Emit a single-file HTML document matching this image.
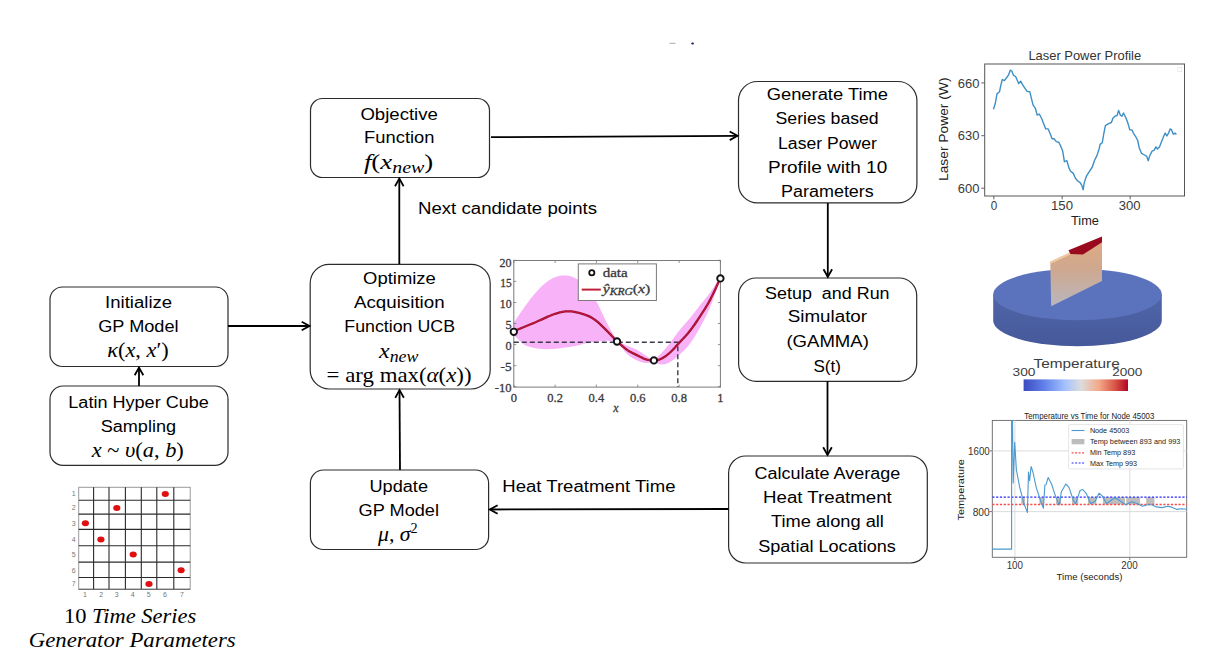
<!DOCTYPE html>
<html><head><meta charset="utf-8"><style>
html,body{margin:0;padding:0;background:#fff;}
body{width:1219px;height:661px;overflow:hidden;position:relative;}
svg{position:absolute;left:0;top:0;}
</style></head><body>
<svg width="1219" height="661" viewBox="0 0 1219 661">
<rect width="1219" height="661" fill="#fff"/>

<rect x="50" y="287" width="178.00" height="79.50" rx="12.5" ry="12.5" fill="none" stroke="#2c2c2c" stroke-width="1.2"/>
<rect x="50" y="386" width="178.00" height="79.30" rx="13" ry="13" fill="none" stroke="#2c2c2c" stroke-width="1.2"/>
<rect x="310.5" y="98.5" width="179.00" height="79.00" rx="12" ry="12" fill="none" stroke="#2c2c2c" stroke-width="1.2"/>
<rect x="310.2" y="264.3" width="180.00" height="124.70" rx="19" ry="19" fill="none" stroke="#2c2c2c" stroke-width="1.2"/>
<rect x="310.4" y="470" width="178.20" height="79.50" rx="13" ry="13" fill="none" stroke="#2c2c2c" stroke-width="1.2"/>
<rect x="738.5" y="81.5" width="178.40" height="121.40" rx="19" ry="19" fill="none" stroke="#2c2c2c" stroke-width="1.2"/>
<rect x="738.6" y="278" width="178.10" height="103.30" rx="17.5" ry="17.5" fill="none" stroke="#2c2c2c" stroke-width="1.2"/>
<rect x="728.6" y="456" width="198.70" height="107.00" rx="17" ry="17" fill="none" stroke="#2c2c2c" stroke-width="1.2"/>
<line x1="228" y1="326" x2="309.5" y2="326" stroke="#000" stroke-width="1.8"/>
<polyline points="301.70,330.30 309.50,326.00 301.70,321.70" fill="none" stroke="#000" stroke-width="1.8" stroke-linejoin="miter"/>
<line x1="139" y1="386" x2="139" y2="367.5" stroke="#000" stroke-width="1.8"/>
<polyline points="143.30,375.30 139.00,367.50 134.70,375.30" fill="none" stroke="#000" stroke-width="1.8" stroke-linejoin="miter"/>
<line x1="399.3" y1="264" x2="399.3" y2="178.5" stroke="#000" stroke-width="1.8"/>
<polyline points="403.60,186.30 399.30,178.50 395.00,186.30" fill="none" stroke="#000" stroke-width="1.8" stroke-linejoin="miter"/>
<line x1="400" y1="470" x2="399.5" y2="390" stroke="#000" stroke-width="1.8"/>
<polyline points="403.85,397.77 399.50,390.00 395.25,397.83" fill="none" stroke="#000" stroke-width="1.8" stroke-linejoin="miter"/>
<line x1="491" y1="137.2" x2="737.5" y2="135.8" stroke="#000" stroke-width="1.8"/>
<polyline points="729.72,140.14 737.50,135.80 729.68,131.54" fill="none" stroke="#000" stroke-width="1.8" stroke-linejoin="miter"/>
<line x1="827.8" y1="203" x2="827.8" y2="277" stroke="#000" stroke-width="1.8"/>
<polyline points="823.50,269.20 827.80,277.00 832.10,269.20" fill="none" stroke="#000" stroke-width="1.8" stroke-linejoin="miter"/>
<line x1="827.5" y1="381.3" x2="827.5" y2="455" stroke="#000" stroke-width="1.8"/>
<polyline points="823.20,447.20 827.50,455.00 831.80,447.20" fill="none" stroke="#000" stroke-width="1.8" stroke-linejoin="miter"/>
<line x1="728.6" y1="509" x2="489.8" y2="509.5" stroke="#000" stroke-width="1.8"/>
<polyline points="497.59,505.18 489.80,509.50 497.61,513.78" fill="none" stroke="#000" stroke-width="1.8" stroke-linejoin="miter"/>
<text x="105.1" y="308.2" font-family='"Liberation Sans", sans-serif' font-size="17.3"  fill="#000" textLength="67.00" lengthAdjust="spacingAndGlyphs" >Initialize</text>
<text x="98.2" y="331.7" font-family='"Liberation Sans", sans-serif' font-size="17.3"  fill="#000" textLength="80.40" lengthAdjust="spacingAndGlyphs" >GP Model</text>
<text x="107.2" y="356.7" font-family='"Liberation Serif", serif' font-size="21.5" fill="#000" textLength="61.60" lengthAdjust="spacingAndGlyphs" ><tspan font-style="italic">κ</tspan>(<tspan font-style="italic">x</tspan>, <tspan font-style="italic">x</tspan>′)</text>
<text x="68.3" y="407.9" font-family='"Liberation Sans", sans-serif' font-size="17.3"  fill="#000" textLength="140.60" lengthAdjust="spacingAndGlyphs" >Latin Hyper Cube</text>
<text x="100.7" y="431.5" font-family='"Liberation Sans", sans-serif' font-size="17.3"  fill="#000" textLength="75.40" lengthAdjust="spacingAndGlyphs" >Sampling</text>
<text x="91.8" y="456.7" font-family='"Liberation Serif", serif' font-size="21.5" fill="#000" textLength="92.00" lengthAdjust="spacingAndGlyphs" ><tspan font-style="italic">x</tspan> ~ <tspan font-style="italic">υ</tspan>(<tspan font-style="italic">a</tspan>, <tspan font-style="italic">b</tspan>)</text>
<text x="360.4" y="119.6" font-family='"Liberation Sans", sans-serif' font-size="17.3"  fill="#000" textLength="77.50" lengthAdjust="spacingAndGlyphs" >Objective</text>
<text x="364.1" y="143.2" font-family='"Liberation Sans", sans-serif' font-size="17.3"  fill="#000" textLength="70.40" lengthAdjust="spacingAndGlyphs" >Function</text>
<text x="363.9" y="168.8" font-family='"Liberation Serif", serif' font-size="21.5" fill="#000" textLength="69.40" lengthAdjust="spacingAndGlyphs" ><tspan font-style="italic">f</tspan>(<tspan font-style="italic">x</tspan><tspan font-style="italic" font-size="16" dy="4.3">new</tspan><tspan dy="-4.3">)</tspan></text>
<text x="363.1" y="284" font-family='"Liberation Sans", sans-serif' font-size="17.3"  fill="#000" textLength="72.70" lengthAdjust="spacingAndGlyphs" >Optimize</text>
<text x="354" y="307.9" font-family='"Liberation Sans", sans-serif' font-size="17.3"  fill="#000" textLength="90.60" lengthAdjust="spacingAndGlyphs" >Acquisition</text>
<text x="344.3" y="332.2" font-family='"Liberation Sans", sans-serif' font-size="17.3"  fill="#000" textLength="110.70" lengthAdjust="spacingAndGlyphs" >Function UCB</text>
<text x="379.1" y="358" font-family='"Liberation Serif", serif' font-size="21.5" fill="#000" textLength="39.30" lengthAdjust="spacingAndGlyphs" ><tspan font-style="italic">x</tspan><tspan font-style="italic" font-size="16" dy="4.3">new</tspan></text>
<text x="326.6" y="381.6" font-family='"Liberation Serif", serif' font-size="21.5" fill="#000" textLength="145.00" lengthAdjust="spacingAndGlyphs" >=  arg max(<tspan font-style="italic">α</tspan>(<tspan font-style="italic">x</tspan>))</text>
<text x="369.5" y="492.3" font-family='"Liberation Sans", sans-serif' font-size="17.3"  fill="#000" textLength="58.50" lengthAdjust="spacingAndGlyphs" >Update</text>
<text x="358.6" y="515.7" font-family='"Liberation Sans", sans-serif' font-size="17.3"  fill="#000" textLength="80.40" lengthAdjust="spacingAndGlyphs" >GP Model</text>
<text x="378" y="540.6" font-family='"Liberation Serif", serif' font-size="21.5" fill="#000" textLength="39.70" lengthAdjust="spacingAndGlyphs" ><tspan font-style="italic">μ, σ</tspan><tspan font-size="14" dy="-8">2</tspan></text>
<text x="766.7" y="100" font-family='"Liberation Sans", sans-serif' font-size="17.3"  fill="#000" textLength="121.30" lengthAdjust="spacingAndGlyphs" >Generate Time</text>
<text x="775.6" y="123.6" font-family='"Liberation Sans", sans-serif' font-size="17.3"  fill="#000" textLength="103.10" lengthAdjust="spacingAndGlyphs" >Series based</text>
<text x="778.1" y="148.8" font-family='"Liberation Sans", sans-serif' font-size="17.3"  fill="#000" textLength="98.70" lengthAdjust="spacingAndGlyphs" >Laser Power</text>
<text x="768.1" y="173.4" font-family='"Liberation Sans", sans-serif' font-size="17.3"  fill="#000" textLength="119.10" lengthAdjust="spacingAndGlyphs" >Profile with 10</text>
<text x="781.1" y="197" font-family='"Liberation Sans", sans-serif' font-size="17.3"  fill="#000" textLength="92.70" lengthAdjust="spacingAndGlyphs" >Parameters</text>
<text x="765.1" y="298.9" font-family='"Liberation Sans", sans-serif' font-size="17.3"  fill="#000" textLength="124.50" lengthAdjust="spacingAndGlyphs" >Setup &#160;and Run</text>
<text x="787.7" y="322.3" font-family='"Liberation Sans", sans-serif' font-size="17.3"  fill="#000" textLength="79.40" lengthAdjust="spacingAndGlyphs" >Simulator</text>
<text x="786.4" y="347.2" font-family='"Liberation Sans", sans-serif' font-size="17.3"  fill="#000" textLength="82.50" lengthAdjust="spacingAndGlyphs" >(GAMMA)</text>
<text x="813.4" y="372.4" font-family='"Liberation Sans", sans-serif' font-size="17.3"  fill="#000" textLength="27.50" lengthAdjust="spacingAndGlyphs" >S(t)</text>
<text x="754.6" y="478.8" font-family='"Liberation Sans", sans-serif' font-size="17.3"  fill="#000" textLength="145.60" lengthAdjust="spacingAndGlyphs" >Calculate Average</text>
<text x="763.1" y="502.5" font-family='"Liberation Sans", sans-serif' font-size="17.3"  fill="#000" textLength="128.60" lengthAdjust="spacingAndGlyphs" >Heat Treatment</text>
<text x="771" y="526.8" font-family='"Liberation Sans", sans-serif' font-size="17.3"  fill="#000" textLength="112.90" lengthAdjust="spacingAndGlyphs" >Time along all</text>
<text x="758.2" y="551.6" font-family='"Liberation Sans", sans-serif' font-size="17.3"  fill="#000" textLength="137.70" lengthAdjust="spacingAndGlyphs" >Spatial Locations</text>
<text x="418" y="213.8" font-family='"Liberation Sans", sans-serif' font-size="17.3"  fill="#000" textLength="179.10" lengthAdjust="spacingAndGlyphs" >Next candidate points</text>
<text x="502.3" y="492" font-family='"Liberation Sans", sans-serif' font-size="17.3"  fill="#000" textLength="173.20" lengthAdjust="spacingAndGlyphs" >Heat Treatment Time</text>
<text x="64" y="622.9" font-family='"Liberation Serif", serif' font-size="20.5" fill="#000" textLength="132.20" lengthAdjust="spacingAndGlyphs" >10 <tspan font-style="italic">Time Series</tspan></text>
<text x="28.8" y="647.4" font-family='"Liberation Serif", serif' font-size="20.5" fill="#000" textLength="206.90" lengthAdjust="spacingAndGlyphs" ><tspan font-style="italic">Generator Parameters</tspan></text>
<rect x="505" y="250" width="222" height="170" fill="#fff"/>
<polygon points="513.8,322.7 514.8,321.2 515.9,319.6 516.9,318.1 517.9,316.5 519.0,315.0 520.0,313.5 521.0,311.9 522.1,310.4 523.1,309.0 524.1,307.5 525.2,306.1 526.2,304.7 527.2,303.3 528.3,301.9 529.3,300.5 530.3,299.1 531.4,297.8 532.4,296.5 533.4,295.3 534.5,294.0 535.5,292.8 536.5,291.7 537.6,290.5 538.6,289.4 539.6,288.3 540.7,287.3 541.7,286.3 542.7,285.3 543.8,284.4 544.8,283.5 545.8,282.7 546.9,281.9 547.9,281.1 548.9,280.4 550.0,279.8 551.0,279.2 552.0,278.6 553.1,278.1 554.1,277.6 555.1,277.2 556.2,276.8 557.2,276.5 558.2,276.2 559.3,275.9 560.3,275.8 561.3,275.6 562.4,275.5 563.4,275.5 564.4,275.5 565.4,275.5 566.5,275.6 567.5,275.7 568.5,275.8 569.6,276.1 570.6,276.3 571.6,276.6 572.7,277.0 573.7,277.4 574.7,277.9 575.8,278.4 576.8,279.1 577.8,279.7 578.9,280.5 579.9,281.3 580.9,282.2 582.0,283.1 583.0,284.0 584.0,285.1 585.1,286.2 586.1,287.3 587.1,288.5 588.2,289.7 589.2,291.0 590.2,292.3 591.3,293.7 592.3,295.1 593.3,296.7 594.4,298.2 595.4,299.9 596.4,301.6 597.5,303.5 598.5,305.4 599.5,307.5 600.6,309.7 601.6,311.9 602.6,314.1 603.7,316.4 604.7,318.6 605.7,320.7 606.8,322.7 607.8,324.6 608.8,326.5 609.9,328.3 610.9,330.1 611.9,331.9 613.0,333.7 614.0,335.5 615.0,337.3 616.1,339.0 617.1,340.8 618.1,341.2 619.2,341.7 620.2,342.3 621.2,342.8 622.3,343.4 623.3,343.9 624.3,344.4 625.4,344.9 626.4,345.4 627.4,345.9 628.5,346.3 629.5,346.7 630.5,347.2 631.6,347.6 632.6,348.0 633.6,348.4 634.7,348.8 635.7,349.3 636.7,349.8 637.8,350.4 638.8,351.0 639.8,351.6 640.9,352.3 641.9,353.0 642.9,353.7 644.0,354.4 645.0,355.1 646.0,355.7 647.1,356.4 648.1,357.0 649.1,357.6 650.2,358.2 651.2,358.7 652.2,359.2 653.3,359.6 654.3,360.0 655.3,358.8 656.4,357.8 657.4,356.8 658.4,355.9 659.5,354.9 660.5,353.9 661.5,352.9 662.6,351.8 663.6,350.7 664.6,349.5 665.7,348.3 666.7,347.1 667.7,345.8 668.8,344.5 669.8,343.2 670.8,341.9 671.8,340.5 672.9,339.2 673.9,337.8 674.9,336.3 676.0,334.9 677.0,333.5 678.0,332.1 679.1,330.8 680.1,329.5 681.1,328.3 682.2,327.1 683.2,325.9 684.2,324.7 685.3,323.5 686.3,322.4 687.3,321.2 688.4,320.0 689.4,318.7 690.4,317.5 691.5,316.2 692.5,314.9 693.5,313.6 694.6,312.2 695.6,310.9 696.6,309.6 697.7,308.2 698.7,306.9 699.7,305.6 700.8,304.3 701.8,303.1 702.8,301.8 703.9,300.5 704.9,299.3 705.9,298.0 707.0,296.7 708.0,295.4 709.0,294.0 710.1,292.6 711.1,291.1 712.1,289.6 713.2,288.0 714.2,286.4 715.2,284.7 716.3,283.1 717.3,281.5 718.3,280.0 719.4,278.5 720.4,277.4 720.4,278.7 719.4,282.0 718.3,285.1 717.3,288.1 716.3,291.0 715.2,293.9 714.2,296.7 713.2,299.5 712.1,302.2 711.1,304.8 710.1,307.3 709.0,309.6 708.0,311.9 707.0,314.1 705.9,316.3 704.9,318.3 703.9,320.3 702.8,322.3 701.8,324.2 700.8,326.1 699.7,328.0 698.7,329.8 697.7,331.6 696.6,333.4 695.6,335.1 694.6,336.8 693.5,338.4 692.5,340.0 691.5,341.5 690.4,343.0 689.4,344.3 688.4,345.7 687.3,346.9 686.3,348.0 685.3,349.1 684.2,350.2 683.2,351.2 682.2,352.2 681.1,353.1 680.1,354.1 679.1,355.0 678.0,356.0 677.0,356.9 676.0,357.8 674.9,358.7 673.9,359.5 672.9,360.3 671.8,361.0 670.8,361.7 669.8,362.2 668.8,362.7 667.7,363.2 666.7,363.6 665.7,363.9 664.6,364.2 663.6,364.3 662.6,364.4 661.5,364.4 660.5,364.2 659.5,364.0 658.4,363.8 657.4,363.4 656.4,362.9 655.3,362.2 654.3,361.2 653.3,361.7 652.2,362.1 651.2,362.4 650.2,362.6 649.1,362.8 648.1,362.9 647.1,362.9 646.0,363.0 645.0,362.9 644.0,362.8 642.9,362.6 641.9,362.3 640.9,362.0 639.8,361.6 638.8,361.2 637.8,360.8 636.7,360.3 635.7,359.8 634.7,359.3 633.6,358.8 632.6,358.2 631.6,357.5 630.5,356.8 629.5,356.0 628.5,355.2 627.4,354.3 626.4,353.2 625.4,352.2 624.3,351.0 623.3,349.8 622.3,348.6 621.2,347.3 620.2,345.9 619.2,344.6 618.1,343.2 617.1,341.7 616.1,341.5 615.0,341.4 614.0,341.3 613.0,341.2 611.9,341.1 610.9,341.0 609.9,340.9 608.8,340.9 607.8,340.8 606.8,340.8 605.7,340.8 604.7,340.9 603.7,340.9 602.6,341.0 601.6,341.1 600.6,341.2 599.5,341.3 598.5,341.4 597.5,341.5 596.4,341.7 595.4,341.8 594.4,341.9 593.3,342.1 592.3,342.2 591.3,342.4 590.2,342.6 589.2,342.7 588.2,342.9 587.1,343.1 586.1,343.3 585.1,343.6 584.0,343.8 583.0,344.1 582.0,344.3 580.9,344.6 579.9,344.9 578.9,345.1 577.8,345.4 576.8,345.6 575.8,345.9 574.7,346.1 573.7,346.3 572.7,346.4 571.6,346.6 570.6,346.8 569.6,346.9 568.5,347.1 567.5,347.3 566.5,347.4 565.4,347.5 564.4,347.7 563.4,347.8 562.4,348.0 561.3,348.1 560.3,348.3 559.3,348.4 558.2,348.5 557.2,348.6 556.2,348.7 555.1,348.8 554.1,348.9 553.1,349.0 552.0,349.1 551.0,349.1 550.0,349.2 548.9,349.2 547.9,349.3 546.9,349.3 545.8,349.3 544.8,349.2 543.8,349.2 542.7,349.1 541.7,349.0 540.7,349.0 539.6,348.8 538.6,348.7 537.6,348.6 536.5,348.4 535.5,348.2 534.5,348.0 533.4,347.7 532.4,347.5 531.4,347.3 530.3,347.1 529.3,346.8 528.3,346.5 527.2,346.1 526.2,345.7 525.2,345.2 524.1,344.6 523.1,343.9 522.1,343.0 521.0,342.1 520.0,341.2 519.0,340.2 517.9,339.1 516.9,338.1 515.9,337.0 514.8,335.9 513.8,334.9" fill="#f8b2f8"/>
<rect x="513.8" y="260.5" width="206.6" height="126.6" fill="none" stroke="#7a7a7a" stroke-width="1"/>
<line x1="513.8" y1="387.1" x2="513.8" y2="384.6" stroke="#777" stroke-width="0.8"/>
<line x1="513.8" y1="260.5" x2="513.8" y2="263" stroke="#777" stroke-width="0.8"/>
<line x1="555.1" y1="387.1" x2="555.1" y2="384.6" stroke="#777" stroke-width="0.8"/>
<line x1="555.1" y1="260.5" x2="555.1" y2="263" stroke="#777" stroke-width="0.8"/>
<line x1="596.4" y1="387.1" x2="596.4" y2="384.6" stroke="#777" stroke-width="0.8"/>
<line x1="596.4" y1="260.5" x2="596.4" y2="263" stroke="#777" stroke-width="0.8"/>
<line x1="637.8" y1="387.1" x2="637.8" y2="384.6" stroke="#777" stroke-width="0.8"/>
<line x1="637.8" y1="260.5" x2="637.8" y2="263" stroke="#777" stroke-width="0.8"/>
<line x1="679.1" y1="387.1" x2="679.1" y2="384.6" stroke="#777" stroke-width="0.8"/>
<line x1="679.1" y1="260.5" x2="679.1" y2="263" stroke="#777" stroke-width="0.8"/>
<line x1="720.4" y1="387.1" x2="720.4" y2="384.6" stroke="#777" stroke-width="0.8"/>
<line x1="720.4" y1="260.5" x2="720.4" y2="263" stroke="#777" stroke-width="0.8"/>
<line x1="513.8" y1="260.3" x2="516.3" y2="260.3" stroke="#777" stroke-width="0.8"/>
<line x1="717.9" y1="260.3" x2="720.4" y2="260.3" stroke="#777" stroke-width="0.8"/>
<line x1="513.8" y1="281.4" x2="516.3" y2="281.4" stroke="#777" stroke-width="0.8"/>
<line x1="717.9" y1="281.4" x2="720.4" y2="281.4" stroke="#777" stroke-width="0.8"/>
<line x1="513.8" y1="302.5" x2="516.3" y2="302.5" stroke="#777" stroke-width="0.8"/>
<line x1="717.9" y1="302.5" x2="720.4" y2="302.5" stroke="#777" stroke-width="0.8"/>
<line x1="513.8" y1="323.5" x2="516.3" y2="323.5" stroke="#777" stroke-width="0.8"/>
<line x1="717.9" y1="323.5" x2="720.4" y2="323.5" stroke="#777" stroke-width="0.8"/>
<line x1="513.8" y1="344.6" x2="516.3" y2="344.6" stroke="#777" stroke-width="0.8"/>
<line x1="717.9" y1="344.6" x2="720.4" y2="344.6" stroke="#777" stroke-width="0.8"/>
<line x1="513.8" y1="365.7" x2="516.3" y2="365.7" stroke="#777" stroke-width="0.8"/>
<line x1="717.9" y1="365.7" x2="720.4" y2="365.7" stroke="#777" stroke-width="0.8"/>
<line x1="513.8" y1="386.7" x2="516.3" y2="386.7" stroke="#777" stroke-width="0.8"/>
<line x1="717.9" y1="386.7" x2="720.4" y2="386.7" stroke="#777" stroke-width="0.8"/>
<polyline points="513.8,342.3 677.8,342.3 677.8,387" fill="none" stroke="#3a3a4a" stroke-width="1.4" stroke-dasharray="5,3"/>
<polyline points="513.8,331.1 515.0,330.6 516.6,330.0 518.5,329.2 520.6,328.4 522.8,327.5 525.2,326.5 527.6,325.5 530.0,324.5 532.3,323.6 534.5,322.7 536.6,321.8 538.7,320.8 540.9,319.9 543.0,318.9 545.2,317.9 547.3,316.9 549.4,316.0 551.4,315.2 553.3,314.5 555.1,313.8 556.8,313.3 558.4,312.8 559.8,312.4 561.3,312.1 562.6,311.8 563.9,311.6 565.3,311.4 566.7,311.3 568.1,311.3 569.6,311.3 571.2,311.4 572.9,311.6 574.6,311.9 576.3,312.3 578.1,312.7 579.8,313.1 581.5,313.6 583.2,314.1 584.7,314.6 586.1,315.1 587.4,315.6 588.6,316.1 589.7,316.6 590.7,317.1 591.7,317.7 592.6,318.3 593.5,318.9 594.5,319.5 595.4,320.2 596.4,321.0 597.5,321.8 598.5,322.7 599.5,323.6 600.6,324.6 601.6,325.6 602.6,326.6 603.7,327.6 604.7,328.6 605.7,329.7 606.8,330.7 607.8,331.7 608.8,332.8 609.9,333.8 610.9,334.9 611.9,336.0 613.0,337.1 614.0,338.2 615.0,339.2 616.1,340.2 617.1,341.2 618.1,342.2 619.2,343.2 620.2,344.1 621.2,345.1 622.3,346.0 623.3,346.9 624.3,347.7 625.4,348.6 626.4,349.3 627.4,350.1 628.5,350.8 629.5,351.4 630.6,352.0 631.7,352.6 632.7,353.1 633.8,353.6 634.8,354.1 635.8,354.6 636.8,355.1 637.8,355.6 638.7,356.0 639.5,356.5 640.4,356.9 641.2,357.3 642.0,357.7 642.8,358.1 643.6,358.5 644.4,358.8 645.2,359.1 646.0,359.3 646.9,359.6 647.7,359.8 648.5,360.0 649.3,360.2 650.2,360.4 651.0,360.5 651.8,360.6 652.6,360.6 653.5,360.7 654.3,360.6 655.1,360.5 655.9,360.4 656.8,360.3 657.6,360.1 658.4,359.8 659.2,359.6 660.1,359.2 660.9,358.9 661.7,358.5 662.6,358.1 663.4,357.6 664.2,357.1 665.0,356.5 665.9,356.0 666.7,355.3 667.5,354.7 668.3,354.0 669.2,353.3 670.0,352.5 670.8,351.8 671.6,351.0 672.4,350.2 673.2,349.4 674.0,348.5 674.8,347.7 675.6,346.8 676.4,345.8 677.3,344.9 678.2,343.9 679.1,342.9 680.0,341.9 681.0,340.9 682.0,339.8 683.1,338.7 684.1,337.6 685.2,336.5 686.2,335.3 687.3,334.1 688.4,332.8 689.4,331.5 690.4,330.2 691.5,328.8 692.5,327.4 693.5,326.0 694.6,324.5 695.6,323.0 696.6,321.5 697.7,319.9 698.7,318.4 699.7,316.8 700.8,315.2 701.8,313.6 702.8,312.0 703.9,310.4 704.9,308.8 705.9,307.1 707.0,305.4 708.0,303.7 709.0,301.8 710.1,299.9 711.1,297.8 712.3,295.5 713.5,293.0 714.7,290.5 715.9,287.9 717.0,285.4 718.1,283.1 719.0,281.1 719.8,279.3 720.4,278.0" fill="none" stroke="#9a1030" stroke-width="2.3" stroke-linejoin="round"/>
<polyline points="513.8,331.1 515.0,330.6 516.6,330.0 518.5,329.2 520.6,328.4 522.8,327.5 525.2,326.5 527.6,325.5 530.0,324.5 532.3,323.6 534.5,322.7 536.6,321.8 538.7,320.8 540.9,319.9 543.0,318.9 545.2,317.9 547.3,316.9 549.4,316.0 551.4,315.2 553.3,314.5 555.1,313.8 556.8,313.3 558.4,312.8 559.8,312.4 561.3,312.1 562.6,311.8 563.9,311.6 565.3,311.4 566.7,311.3 568.1,311.3 569.6,311.3 571.2,311.4 572.9,311.6 574.6,311.9 576.3,312.3 578.1,312.7 579.8,313.1 581.5,313.6 583.2,314.1 584.7,314.6 586.1,315.1 587.4,315.6 588.6,316.1 589.7,316.6 590.7,317.1 591.7,317.7 592.6,318.3 593.5,318.9 594.5,319.5 595.4,320.2 596.4,321.0 597.5,321.8 598.5,322.7 599.5,323.6 600.6,324.6 601.6,325.6 602.6,326.6 603.7,327.6 604.7,328.6 605.7,329.7 606.8,330.7 607.8,331.7 608.8,332.8 609.9,333.8 610.9,334.9 611.9,336.0 613.0,337.1 614.0,338.2 615.0,339.2 616.1,340.2 617.1,341.2 618.1,342.2 619.2,343.2 620.2,344.1 621.2,345.1 622.3,346.0 623.3,346.9 624.3,347.7 625.4,348.6 626.4,349.3 627.4,350.1 628.5,350.8 629.5,351.4 630.6,352.0 631.7,352.6 632.7,353.1 633.8,353.6 634.8,354.1 635.8,354.6 636.8,355.1 637.8,355.6 638.7,356.0 639.5,356.5 640.4,356.9 641.2,357.3 642.0,357.7 642.8,358.1 643.6,358.5 644.4,358.8 645.2,359.1 646.0,359.3 646.9,359.6 647.7,359.8 648.5,360.0 649.3,360.2 650.2,360.4 651.0,360.5 651.8,360.6 652.6,360.6 653.5,360.7 654.3,360.6 655.1,360.5 655.9,360.4 656.8,360.3 657.6,360.1 658.4,359.8 659.2,359.6 660.1,359.2 660.9,358.9 661.7,358.5 662.6,358.1 663.4,357.6 664.2,357.1 665.0,356.5 665.9,356.0 666.7,355.3 667.5,354.7 668.3,354.0 669.2,353.3 670.0,352.5 670.8,351.8 671.6,351.0 672.4,350.2 673.2,349.4 674.0,348.5 674.8,347.7 675.6,346.8 676.4,345.8 677.3,344.9 678.2,343.9 679.1,342.9 680.0,341.9 681.0,340.9 682.0,339.8 683.1,338.7 684.1,337.6 685.2,336.5 686.2,335.3 687.3,334.1 688.4,332.8 689.4,331.5 690.4,330.2 691.5,328.8 692.5,327.4 693.5,326.0 694.6,324.5 695.6,323.0 696.6,321.5 697.7,319.9 698.7,318.4 699.7,316.8 700.8,315.2 701.8,313.6 702.8,312.0 703.9,310.4 704.9,308.8 705.9,307.1 707.0,305.4 708.0,303.7 709.0,301.8 710.1,299.9 711.1,297.8 712.3,295.5 713.5,293.0 714.7,290.5 715.9,287.9 717.0,285.4 718.1,283.1 719.0,281.1 719.8,279.3 720.4,278.0" fill="none" stroke="#cc1a3e" stroke-width="0.9" stroke-linejoin="round"/>
<circle cx="513.8" cy="331.8" r="3.2" fill="#fff" stroke="#111" stroke-width="1.9"/>
<circle cx="617" cy="341.5" r="3.2" fill="#fff" stroke="#111" stroke-width="1.9"/>
<circle cx="653.9" cy="360.4" r="3.2" fill="#fff" stroke="#111" stroke-width="1.9"/>
<circle cx="720.4" cy="278.4" r="3.2" fill="#fff" stroke="#111" stroke-width="1.9"/>
<text x="499.6" y="266.8" font-family='"Liberation Serif", serif' fill="#3a3a3a" stroke="#3a3a3a" stroke-width="0.3" font-size="12.5" textLength="12.0" lengthAdjust="spacingAndGlyphs">20</text>
<text x="500.2" y="286.9" font-family='"Liberation Serif", serif' fill="#3a3a3a" stroke="#3a3a3a" stroke-width="0.3" font-size="12.5" textLength="11.4" lengthAdjust="spacingAndGlyphs">15</text>
<text x="499.8" y="308.0" font-family='"Liberation Serif", serif' fill="#3a3a3a" stroke="#3a3a3a" stroke-width="0.3" font-size="12.5" textLength="11.8" lengthAdjust="spacingAndGlyphs">10</text>
<text x="505.5" y="329.0" font-family='"Liberation Serif", serif' fill="#3a3a3a" stroke="#3a3a3a" stroke-width="0.3" font-size="12.5" textLength="6.1" lengthAdjust="spacingAndGlyphs">5</text>
<text x="505.5" y="350.1" font-family='"Liberation Serif", serif' fill="#3a3a3a" stroke="#3a3a3a" stroke-width="0.3" font-size="12.5" textLength="6.1" lengthAdjust="spacingAndGlyphs">0</text>
<text x="500.5" y="371.2" font-family='"Liberation Serif", serif' fill="#3a3a3a" stroke="#3a3a3a" stroke-width="0.3" font-size="12.5" textLength="11.1" lengthAdjust="spacingAndGlyphs">-5</text>
<text x="494.8" y="392.2" font-family='"Liberation Serif", serif' fill="#3a3a3a" stroke="#3a3a3a" stroke-width="0.3" font-size="12.5" textLength="16.8" lengthAdjust="spacingAndGlyphs">-10</text>
<text x="513.8" y="402.3" font-family='"Liberation Serif", serif' fill="#3a3a3a" stroke="#3a3a3a" stroke-width="0.3" font-size="12.5" text-anchor="middle">0</text>
<text x="555.1" y="402.3" font-family='"Liberation Serif", serif' fill="#3a3a3a" stroke="#3a3a3a" stroke-width="0.3" font-size="12.5" text-anchor="middle">0.2</text>
<text x="596.4" y="402.3" font-family='"Liberation Serif", serif' fill="#3a3a3a" stroke="#3a3a3a" stroke-width="0.3" font-size="12.5" text-anchor="middle">0.4</text>
<text x="637.8" y="402.3" font-family='"Liberation Serif", serif' fill="#3a3a3a" stroke="#3a3a3a" stroke-width="0.3" font-size="12.5" text-anchor="middle">0.6</text>
<text x="679.1" y="402.3" font-family='"Liberation Serif", serif' fill="#3a3a3a" stroke="#3a3a3a" stroke-width="0.3" font-size="12.5" text-anchor="middle">0.8</text>
<text x="720.4" y="402.3" font-family='"Liberation Serif", serif' fill="#3a3a3a" stroke="#3a3a3a" stroke-width="0.3" font-size="12.5" text-anchor="middle">1</text>
<text x="616" y="411.5" font-family='"Liberation Serif", serif' fill="#3a3a3a" stroke="#3a3a3a" stroke-width="0.3" font-size="12" font-style="italic" text-anchor="middle">x</text>
<rect x="578.3" y="263.9" width="78.1" height="36.6" fill="#fff" stroke="#7a7a7a" stroke-width="1"/>
<circle cx="591.8" cy="272.8" r="2.6" fill="#fff" stroke="#111" stroke-width="1.8"/>
<text x="602.7" y="277.1" font-family='"Liberation Serif", serif' fill="#3a3a3a" stroke="#3a3a3a" stroke-width="0.3" font-size="13" textLength="25" lengthAdjust="spacingAndGlyphs">data</text>
<line x1="581.7" y1="289.6" x2="600.8" y2="289.6" stroke="#c0203a" stroke-width="2"/>
<text x="602.7" y="293.2" font-family='"Liberation Serif", serif' fill="#3a3a3a" stroke="#3a3a3a" stroke-width="0.3" font-size="13" textLength="47.6" lengthAdjust="spacingAndGlyphs"><tspan font-style="italic">ŷ</tspan><tspan font-style="italic" font-size="9.5" dy="2">KRG</tspan><tspan dy="-2">(</tspan><tspan font-style="italic">x</tspan>)</text>
<text x="1084.8" y="60.2" font-family='"Liberation Sans", sans-serif' font-size="12.2" fill="#333" text-anchor="middle" textLength="112.8" lengthAdjust="spacingAndGlyphs">Laser Power Profile</text>
<rect x="984.7" y="64" width="199.8" height="132" fill="#fff" stroke="#555" stroke-width="1"/>
<rect x="1177.8" y="67.6" width="3.8" height="3.8" fill="none" stroke="#e6e6e6" stroke-width="0.8"/>
<line x1="981.3" y1="82.9" x2="984.7" y2="82.9" stroke="#555" stroke-width="0.9"/>
<line x1="981.3" y1="135.7" x2="984.7" y2="135.7" stroke="#555" stroke-width="0.9"/>
<line x1="981.3" y1="188.2" x2="984.7" y2="188.2" stroke="#555" stroke-width="0.9"/>
<line x1="993.8" y1="196" x2="993.8" y2="199.4" stroke="#555" stroke-width="0.9"/>
<line x1="1062.2" y1="196" x2="1062.2" y2="199.4" stroke="#555" stroke-width="0.9"/>
<line x1="1130.2" y1="196" x2="1130.2" y2="199.4" stroke="#555" stroke-width="0.9"/>
<text x="957.8" y="87.5" font-family='"Liberation Sans", sans-serif' font-size="13.4" fill="#3a3a3a" textLength="21.6" lengthAdjust="spacingAndGlyphs">660</text>
<text x="957.8" y="140.3" font-family='"Liberation Sans", sans-serif' font-size="13.4" fill="#3a3a3a" textLength="21.6" lengthAdjust="spacingAndGlyphs">630</text>
<text x="957.8" y="192.8" font-family='"Liberation Sans", sans-serif' font-size="13.4" fill="#3a3a3a" textLength="21.6" lengthAdjust="spacingAndGlyphs">600</text>
<text x="990.7" y="210.3" font-family='"Liberation Sans", sans-serif' font-size="13.4" fill="#3a3a3a" textLength="6.5" lengthAdjust="spacingAndGlyphs">0</text>
<text x="1051" y="210.3" font-family='"Liberation Sans", sans-serif' font-size="13.4" fill="#3a3a3a" textLength="22" lengthAdjust="spacingAndGlyphs">150</text>
<text x="1118.7" y="210.3" font-family='"Liberation Sans", sans-serif' font-size="13.4" fill="#3a3a3a" textLength="21.8" lengthAdjust="spacingAndGlyphs">300</text>
<text x="1071" y="224.5" font-family='"Liberation Sans", sans-serif' font-size="12" fill="#222" textLength="27.9" lengthAdjust="spacingAndGlyphs">Time</text>
<text transform="translate(947.6,181) rotate(-90)" x="0" y="0" font-family='"Liberation Sans", sans-serif' font-size="13.2" fill="#222" textLength="103.5" lengthAdjust="spacingAndGlyphs">Laser Power (W)</text>
<polyline points="993.4,109.2 995.3,103.5 997.0,93.9 999.5,91.8 1000.8,85.4 1002.3,79.5 1004.4,80.6 1007.1,77.0 1008.6,74.8 1010.3,70.2 1011.8,71.0 1013.5,75.3 1015.6,76.5 1017.7,81.2 1018.8,83.7 1020.7,81.2 1022.4,84.4 1024.5,87.6 1027.1,91.4 1029.8,91.8 1031.9,100.3 1033.0,104.9 1035.5,108.7 1037.2,115.1 1039.3,114.0 1041.5,118.3 1043.6,123.6 1045.7,128.9 1048.2,128.9 1050.4,134.2 1052.1,138.8 1054.2,138.8 1056.3,141.6 1058.8,142.2 1060.5,145.8 1062.7,151.1 1064.4,161.7 1066.9,160.7 1069.0,168.1 1070.7,171.3 1073.3,173.4 1075.4,178.3 1077.5,180.8 1080.0,182.5 1081.7,185.1 1083.2,189.7 1084.2,182.9 1086.4,176.2 1089.5,171.3 1092.3,167.0 1094.4,160.7 1097.0,155.4 1099.1,149.0 1100.1,144.4 1102.3,142.7 1103.7,134.2 1105.4,125.7 1108.6,123.6 1111.4,122.5 1112.9,118.3 1115.0,116.2 1117.1,115.5 1118.6,110.4 1120.3,115.1 1122.0,116.2 1123.5,113.0 1125.6,117.2 1127.7,122.5 1129.8,129.9 1131.9,129.9 1134.0,134.2 1135.5,136.3 1137.7,140.5 1139.3,148.0 1141.5,153.3 1144.6,155.0 1146.8,156.4 1148.2,160.7 1149.9,155.4 1152.1,151.1 1154.2,150.1 1155.9,146.9 1157.4,149.0 1159.5,146.9 1161.6,141.6 1163.7,136.3 1165.2,133.1 1166.9,135.9 1168.6,133.1 1170.1,128.9 1171.6,129.9 1173.3,134.2 1175.0,133.1 1176.4,134.6" fill="none" stroke="#3d8fc6" stroke-width="1.4" stroke-linejoin="round"/>
<defs><linearGradient id="cw" x1="0" x2="1" y1="0" y2="0"><stop offset="0" stop-color="#3b4cc0"/><stop offset="0.2" stop-color="#6282ea"/><stop offset="0.4" stop-color="#a5c2fe"/><stop offset="0.55" stop-color="#dcdcdc"/><stop offset="0.72" stop-color="#f4a98a"/><stop offset="0.88" stop-color="#d65244"/><stop offset="1" stop-color="#b40426"/></linearGradient><linearGradient id="plate" x1="0" x2="0" y1="0" y2="1"><stop offset="0" stop-color="#e2ab82"/><stop offset="0.45" stop-color="#cfa88e"/><stop offset="1" stop-color="#b9b6bd"/></linearGradient><linearGradient id="side" x1="0" x2="0" y1="0" y2="1"><stop offset="0" stop-color="#4f66a8"/><stop offset="1" stop-color="#46599a"/></linearGradient></defs>
<path d="M993.2,294.5 L993.2,320.5 A84.3,25.7 0 0 0 1161.8,320.5 L1161.8,294.5 Z" fill="url(#side)"/>
<ellipse cx="1077.5" cy="294.5" rx="84.3" ry="25.7" fill="#5b73bd"/>
<polygon points="1050.3,261.8 1102,237.3 1102,281 1051.2,306.2" fill="url(#plate)"/>
<polygon points="1050.3,261.8 1102,237.3 1102,239.5 1050.3,264" fill="#f0c9a0"/>
<polygon points="1068.5,250.3 1102,236.4 1102,242.3 1083,254.5 1070.3,254" fill="#9a0a1e"/>
<rect x="1023.6" y="379.4" width="104.4" height="11.6" fill="url(#cw)"/>
<text x="1033.5" y="368" font-family='"Liberation Sans", sans-serif' font-size="12.5" fill="#3c3c3c" textLength="86.2" lengthAdjust="spacingAndGlyphs">Temperature</text>
<text x="1012.5" y="375.8" font-family='"Liberation Sans", sans-serif' font-size="11.8" fill="#3c3c3c" textLength="22.9" lengthAdjust="spacingAndGlyphs">300</text>
<text x="1112.2" y="375.8" font-family='"Liberation Sans", sans-serif' font-size="11.8" fill="#3c3c3c" textLength="30.2" lengthAdjust="spacingAndGlyphs">2000</text>
<text x="1024.3" y="418.7" font-family='"Liberation Sans", sans-serif' font-size="8.8" fill="#222" textLength="130" lengthAdjust="spacingAndGlyphs">Temperature vs Time for Node 45003</text>
<rect x="992.3" y="420.4" width="194.4" height="136.9" fill="#fff" stroke="#666" stroke-width="0.9"/>
<line x1="1014.9" y1="420.4" x2="1014.9" y2="557.3" stroke="#d8d8d8" stroke-width="0.9"/>
<line x1="1129.8" y1="420.4" x2="1129.8" y2="557.3" stroke="#d8d8d8" stroke-width="0.9"/>
<line x1="992.3" y1="450.9" x2="1186.7" y2="450.9" stroke="#d8d8d8" stroke-width="0.9"/>
<line x1="992.3" y1="511.6" x2="1186.7" y2="511.6" stroke="#d8d8d8" stroke-width="0.9"/>
<line x1="1014.9" y1="557.3" x2="1014.9" y2="560" stroke="#555" stroke-width="0.8"/>
<line x1="1129.8" y1="557.3" x2="1129.8" y2="560" stroke="#555" stroke-width="0.8"/>
<line x1="989.6" y1="450.9" x2="992.3" y2="450.9" stroke="#555" stroke-width="0.8"/>
<line x1="989.6" y1="511.6" x2="992.3" y2="511.6" stroke="#555" stroke-width="0.8"/>
<rect x="1021.3" y="497.2" width="3.6" height="7.3" fill="#bdbdbd"/>
<rect x="1039.4" y="497.2" width="4.6" height="7.3" fill="#bdbdbd"/>
<rect x="1056" y="497.2" width="5.1" height="7.3" fill="#bdbdbd"/>
<rect x="1072" y="497.2" width="6.2" height="7.3" fill="#bdbdbd"/>
<rect x="1088" y="497.2" width="8.3" height="7.3" fill="#bdbdbd"/>
<rect x="1103" y="497.2" width="22.0" height="7.3" fill="#bdbdbd"/>
<rect x="1126.3" y="497.2" width="13.8" height="7.3" fill="#bdbdbd"/>
<rect x="1146.2" y="497.2" width="8.2" height="7.3" fill="#bdbdbd"/>
<line x1="992.3" y1="497.2" x2="1186.7" y2="497.2" stroke="#2a2aff" stroke-width="1.3" stroke-dasharray="2.2,1.6"/>
<line x1="992.3" y1="504.5" x2="1186.7" y2="504.5" stroke="#ff4a4a" stroke-width="1.3" stroke-dasharray="2.2,1.6"/>
<polyline points="992.3,549.1 1011.6,549.1 1011.6,420.5 1012.5,420.5 1013.2,482.9 1014.7,442.4 1016.4,469.8 1019.7,487.3 1023.7,502.7 1027.4,512.5 1028.5,472.0 1029.6,480.8 1031.1,466.5 1032.9,472.0 1036.2,487.3 1040.5,500.5 1043.4,508.2 1044.9,485.1 1046.0,484.7 1048.2,477.5 1051.5,484.0 1055.9,497.2 1059.2,504.9 1061.4,491.7 1065.8,484.0 1069.0,487.3 1073.4,500.5 1075.6,503.8 1080.0,490.6 1082.7,489.5 1086.1,493.3 1090.7,503.5 1095.2,501.3 1099.0,493.3 1102.0,495.6 1106.5,503.5 1109.9,501.3 1114.5,497.8 1119.0,500.1 1125.8,504.7 1131.5,501.7 1137.2,503.5 1142.4,506.2 1147.4,504.7 1151.9,504.7 1156.4,506.9 1162.1,507.6 1167.8,506.2 1172.3,507.4 1176.9,509.4 1181.4,508.7 1187.1,509.2" fill="none" stroke="#4a9ad0" stroke-width="1.1" stroke-linejoin="round"/>
<rect x="1068.6" y="424.6" width="114.8" height="44.3" rx="1.5" fill="#fff" fill-opacity="0.85" stroke="#dedede" stroke-width="0.8"/>
<line x1="1071.6" y1="430.5" x2="1084.4" y2="430.5" stroke="#4a9ad0" stroke-width="1.1"/>
<rect x="1071.6" y="439" width="12.8" height="5.3" fill="#bdbdbd"/>
<line x1="1071.6" y1="452.8" x2="1084.4" y2="452.8" stroke="#ff4a4a" stroke-width="1.2" stroke-dasharray="2,1.5"/>
<line x1="1071.6" y1="463" x2="1084.4" y2="463" stroke="#2a2aff" stroke-width="1.2" stroke-dasharray="2,1.5"/>
<text x="1089.9" y="433.1" font-family='"Liberation Sans", sans-serif' font-size="7.4" fill="#222" textLength="39.3" lengthAdjust="spacingAndGlyphs">Node 45003</text>
<text x="1089.9" y="444.3" font-family='"Liberation Sans", sans-serif' font-size="7.4" fill="#222" textLength="90.5" lengthAdjust="spacingAndGlyphs">Temp between 893 and 993</text>
<text x="1089.9" y="455.4" font-family='"Liberation Sans", sans-serif' font-size="7.4" fill="#222" textLength="45.3" lengthAdjust="spacingAndGlyphs">Min Temp 893</text>
<text x="1089.9" y="465.6" font-family='"Liberation Sans", sans-serif' font-size="7.4" fill="#222" textLength="47.2" lengthAdjust="spacingAndGlyphs">Max Temp 993</text>
<text x="968.1" y="454.6" font-family='"Liberation Sans", sans-serif' font-size="10" fill="#333" textLength="21.6" lengthAdjust="spacingAndGlyphs">1600</text>
<text x="972.7" y="515.8" font-family='"Liberation Sans", sans-serif' font-size="10" fill="#333" textLength="17" lengthAdjust="spacingAndGlyphs">800</text>
<text x="1006.7" y="568.9" font-family='"Liberation Sans", sans-serif' font-size="10" fill="#333" textLength="16.3" lengthAdjust="spacingAndGlyphs">100</text>
<text x="1121.3" y="568.9" font-family='"Liberation Sans", sans-serif' font-size="10" fill="#333" textLength="16.3" lengthAdjust="spacingAndGlyphs">200</text>
<text x="1056.6" y="579.6" font-family='"Liberation Sans", sans-serif' font-size="9.6" fill="#222" textLength="65.8" lengthAdjust="spacingAndGlyphs">Time (seconds)</text>
<text transform="translate(964.2,520.5) rotate(-90)" x="0" y="0" font-family='"Liberation Sans", sans-serif' font-size="9.6" fill="#222" textLength="61.2" lengthAdjust="spacingAndGlyphs">Temperature</text>
<rect x="669.5" y="42.8" width="6" height="1.2" fill="#b8b8c8"/>
<ellipse cx="692.6" cy="43.4" rx="1.4" ry="1" fill="#102060"/>
<rect x="78.7" y="487.3" width="111.5" height="102" fill="#fff" stroke="#9a9a9a" stroke-width="1"/>
<line x1="93.6" y1="487.3" x2="93.6" y2="589.3" stroke="#2a2a2a" stroke-width="1.1"/>
<line x1="109.0" y1="487.3" x2="109.0" y2="589.3" stroke="#2a2a2a" stroke-width="1.1"/>
<line x1="125.4" y1="487.3" x2="125.4" y2="589.3" stroke="#2a2a2a" stroke-width="1.1"/>
<line x1="141.3" y1="487.3" x2="141.3" y2="589.3" stroke="#2a2a2a" stroke-width="1.1"/>
<line x1="156.8" y1="487.3" x2="156.8" y2="589.3" stroke="#2a2a2a" stroke-width="1.1"/>
<line x1="173.8" y1="487.3" x2="173.8" y2="589.3" stroke="#2a2a2a" stroke-width="1.1"/>
<line x1="78.7" y1="500.3" x2="190.2" y2="500.3" stroke="#2a2a2a" stroke-width="1.1"/>
<line x1="78.7" y1="514.1" x2="190.2" y2="514.1" stroke="#2a2a2a" stroke-width="1.1"/>
<line x1="78.7" y1="529.4" x2="190.2" y2="529.4" stroke="#2a2a2a" stroke-width="1.1"/>
<line x1="78.7" y1="545.7" x2="190.2" y2="545.7" stroke="#2a2a2a" stroke-width="1.1"/>
<line x1="78.7" y1="562.1" x2="190.2" y2="562.1" stroke="#2a2a2a" stroke-width="1.1"/>
<line x1="78.7" y1="577.5" x2="190.2" y2="577.5" stroke="#2a2a2a" stroke-width="1.1"/>
<line x1="78.7" y1="589.3" x2="190.2" y2="589.3" stroke="#5a5a5a" stroke-width="1.1"/>
<ellipse cx="165.3" cy="494" rx="3.6" ry="3.0" fill="#e01010"/>
<ellipse cx="116.8" cy="508.1" rx="3.6" ry="3.0" fill="#e01010"/>
<ellipse cx="85.4" cy="523.2" rx="3.6" ry="3.0" fill="#e01010"/>
<ellipse cx="100.9" cy="539.5" rx="3.6" ry="3.0" fill="#e01010"/>
<ellipse cx="133.2" cy="554.4" rx="3.6" ry="3.0" fill="#e01010"/>
<ellipse cx="181.1" cy="570.2" rx="3.6" ry="3.0" fill="#e01010"/>
<ellipse cx="149" cy="584" rx="3.6" ry="3.0" fill="#e01010"/>
<text x="73.6" y="496.1" font-family='"Liberation Sans", sans-serif' font-size="7" fill="#777" text-anchor="middle">1</text>
<text x="73.6" y="510.1" font-family='"Liberation Sans", sans-serif' font-size="7" fill="#777" text-anchor="middle">2</text>
<text x="73.6" y="526.1" font-family='"Liberation Sans", sans-serif' font-size="7" fill="#777" text-anchor="middle">3</text>
<text x="73.6" y="541.5" font-family='"Liberation Sans", sans-serif' font-size="7" fill="#777" text-anchor="middle">4</text>
<text x="73.6" y="556.9" font-family='"Liberation Sans", sans-serif' font-size="7" fill="#777" text-anchor="middle">5</text>
<text x="73.6" y="572.7" font-family='"Liberation Sans", sans-serif' font-size="7" fill="#777" text-anchor="middle">6</text>
<text x="73.6" y="586.3" font-family='"Liberation Sans", sans-serif' font-size="7" fill="#777" text-anchor="middle">7</text>
<text x="84.9" y="597" font-family='"Liberation Sans", sans-serif' font-size="7" fill="#777" text-anchor="middle">1</text>
<text x="101.2" y="597" font-family='"Liberation Sans", sans-serif' font-size="7" fill="#777" text-anchor="middle">2</text>
<text x="116.8" y="597" font-family='"Liberation Sans", sans-serif' font-size="7" fill="#777" text-anchor="middle">3</text>
<text x="132.6" y="597" font-family='"Liberation Sans", sans-serif' font-size="7" fill="#777" text-anchor="middle">4</text>
<text x="148.6" y="597" font-family='"Liberation Sans", sans-serif' font-size="7" fill="#777" text-anchor="middle">5</text>
<text x="165" y="597" font-family='"Liberation Sans", sans-serif' font-size="7" fill="#777" text-anchor="middle">6</text>
<text x="182" y="597" font-family='"Liberation Sans", sans-serif' font-size="7" fill="#777" text-anchor="middle">7</text>
</svg></body></html>
